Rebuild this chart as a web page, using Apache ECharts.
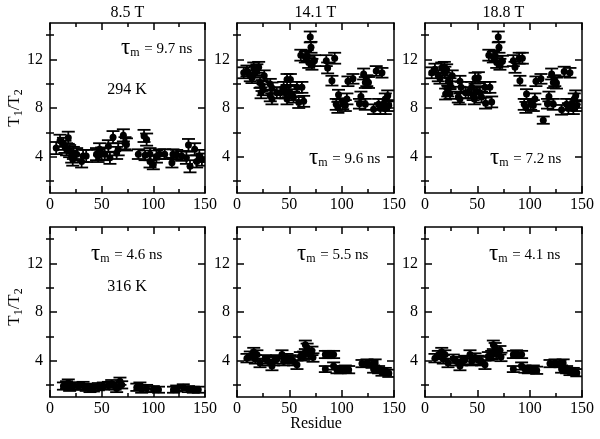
<!DOCTYPE html>
<html>
<head>
<meta charset="utf-8">
<script src="https://cdn.jsdelivr.net/npm/echarts@6/dist/echarts.min.js"></script>
<style>
  html, body { margin: 0; padding: 0; background: #fff; }
  #chart { width: 600px; height: 439px; }
</style>
</head>
<body>
<div id="chart"></div>
<script>
// [residue, T1/T2, error]
const data85_294 = [
  [6, 4.7, 0.5], [9.7, 5.3, 0.5], [13, 5.05, 0.5], [14.5, 4.8, 0.5], [17.7, 5.55, 0.5],
  [16, 4.6, 0.5], [19, 4.45, 0.5], [21, 4.0, 0.5], [22.6, 4.3, 0.5], [22, 3.75, 0.5],
  [25.8, 4.2, 0.5], [30.6, 3.6, 0.5], [32, 4.05, 0.5], [35, 4.05, 0.5], [45, 4.2, 0.5],
  [48, 4.6, 0.5], [46.5, 4.05, 0.5], [50, 4.25, 0.5], [53, 4.2, 0.5], [56.5, 4.85, 0.5],
  [58, 3.9, 0.5], [61, 5.6, 0.5], [64.5, 4.3, 0.5], [66, 4.6, 0.5], [71, 5.75, 0.5],
  [72.6, 5.1, 0.5], [74, 5.0, 0.5], [85.5, 4.2, 0.4], [91, 5.7, 0.5], [93.5, 5.4, 0.5],
  [92, 4.1, 0.4], [96.8, 4.2, 0.5], [96.8, 3.6, 0.5], [100, 3.35, 0.4], [103, 4.0, 0.5],
  [106, 4.2, 0.4], [111, 4.2, 0.4], [118, 3.5, 0.4], [119, 4.2, 0.4], [122.6, 4.15, 0.4],
  [127.4, 4.05, 0.4], [132, 3.9, 0.5], [134, 4.95, 0.5], [135.5, 3.2, 0.5], [140, 4.6, 0.5],
  [142, 3.6, 0.5], [144.5, 4.05, 0.5], [147, 3.75, 0.5]
];
const data141_294 = [
  [6.4, 10.9, 0.45], [9.5, 11.05, 0.45], [12.7, 10.65, 0.45], [14.3, 10.5, 0.45], [16, 11.3, 0.45],
  [19, 11.15, 0.45], [20.7, 11.35, 0.45], [17.5, 10.95, 0.45], [26, 10.65, 0.45], [22, 10.1, 0.45],
  [23.9, 9.85, 0.45], [23, 9.25, 0.45], [25, 9.5, 0.45], [31.8, 9.95, 0.45], [33.4, 9.65, 0.45],
  [31.8, 9.0, 0.45], [33.4, 8.75, 0.45], [38, 9.25, 0.45], [41.4, 9.25, 0.45], [44.6, 9.7, 0.45],
  [46, 9.25, 0.45], [47.8, 10.35, 0.45], [51, 10.35, 0.45], [49.3, 9.35, 0.45], [47.8, 8.75, 0.45],
  [52.5, 9.1, 0.45], [54, 8.9, 0.45], [57.3, 9.7, 0.45], [59, 8.45, 0.45], [62, 9.7, 0.45],
  [63.7, 8.55, 0.45], [61, 12.35, 0.45], [65.3, 12.2, 0.45], [67, 12.3, 0.45], [70, 13.85, 0.45],
  [70.7, 13.0, 0.45], [68.5, 11.75, 0.45], [71.6, 11.6, 0.45], [74, 11.9, 0.45], [85.3, 11.9, 0.45],
  [86.6, 11.3, 0.45], [93.3, 12.1, 0.45], [90.7, 10.25, 0.4], [97, 9.1, 0.4], [94.8, 8.3, 0.45],
  [96.4, 8.05, 0.45], [101, 8.35, 0.45], [103.5, 8.2, 0.45], [105, 8.75, 0.45], [106, 10.2, 0.4],
  [110.8, 10.4, 0.4], [117, 8.35, 0.4], [118.4, 8.95, 0.4], [121, 10.8, 0.45], [122.6, 10.1, 0.45],
  [124, 10.25, 0.45], [125.6, 10.1, 0.45], [122.6, 8.3, 0.45], [130.5, 7.9, 0.4], [133, 11.05, 0.4],
  [138.5, 10.9, 0.4], [135.3, 8.3, 0.45], [137, 7.95, 0.45], [140, 8.3, 0.45], [141.7, 8.75, 0.45],
  [144, 9.0, 0.45], [145, 8.2, 0.45], [141.7, 7.95, 0.45]
];
const data188_294 = [
  [6.4, 10.9, 0.45], [9.5, 11.2, 0.45], [12.7, 10.65, 0.45], [14.3, 10.45, 0.45], [16, 11.3, 0.45],
  [18.5, 11.35, 0.45], [20.7, 11.15, 0.45], [19, 10.95, 0.45], [26, 10.65, 0.45], [22.3, 10.2, 0.45],
  [23.9, 10.0, 0.45], [21.7, 9.4, 0.45], [23.9, 9.2, 0.45], [19.7, 9.15, 0.45], [33.4, 10.2, 0.45],
  [34.4, 9.7, 0.45], [31.8, 8.9, 0.45], [33.4, 8.75, 0.45], [38.8, 9.25, 0.45], [41.4, 9.25, 0.45],
  [44.6, 9.7, 0.45], [46, 9.1, 0.45], [47.8, 10.45, 0.45], [51, 10.5, 0.45], [49.3, 9.35, 0.45],
  [47.1, 8.75, 0.45], [52.5, 9.25, 0.45], [54, 8.9, 0.45], [57.3, 9.7, 0.45], [57.9, 8.4, 0.45],
  [62, 9.7, 0.45], [63.7, 8.5, 0.45], [61, 12.35, 0.45], [65.3, 12.2, 0.45], [67, 12.3, 0.45],
  [70, 13.85, 0.45], [70.7, 13.0, 0.45], [68.5, 11.75, 0.45], [71.6, 11.6, 0.45], [74, 11.85, 0.45],
  [84.4, 11.9, 0.45], [86, 11.35, 0.45], [90, 12.1, 0.45], [93, 12.1, 0.45], [90.7, 10.25, 0.4],
  [97, 9.15, 0.4], [94.8, 8.3, 0.45], [96.4, 8.05, 0.45], [101, 8.3, 0.45], [103.5, 8.2, 0.45],
  [105, 8.75, 0.45], [106, 10.2, 0.4], [110.8, 10.4, 0.4], [113, 7.0, 0.3], [117, 8.35, 0.4],
  [118.4, 8.95, 0.4], [121, 10.8, 0.45], [122.6, 10.1, 0.45], [124, 10.25, 0.45], [125.6, 10.05, 0.45],
  [122.6, 8.3, 0.45], [130.5, 7.85, 0.4], [133, 11.0, 0.4], [138.5, 10.9, 0.4], [135.3, 8.3, 0.45],
  [137, 7.95, 0.45], [140, 8.3, 0.45], [142.6, 8.75, 0.45], [144, 9.0, 0.45], [145, 8.2, 0.45],
  [141.7, 7.95, 0.45]
];
const data85_316 = [
  [13, 1.9, 0.3], [16, 2.0, 0.3], [19, 1.8, 0.3], [17.7, 2.15, 0.3], [22.6, 1.9, 0.3],
  [27.4, 1.9, 0.3], [32, 1.95, 0.3], [35, 1.8, 0.3], [38.7, 1.7, 0.3], [42, 1.75, 0.3],
  [46.8, 1.85, 0.3], [51.6, 1.9, 0.3], [56.5, 1.95, 0.3], [59.7, 2.1, 0.3], [63, 1.9, 0.3],
  [64.5, 1.7, 0.3], [67.7, 2.3, 0.3], [69.4, 2.0, 0.3], [84, 1.8, 0.3], [87, 1.9, 0.3],
  [88.7, 1.65, 0.3], [93.5, 1.7, 0.3], [100, 1.65, 0.25], [105, 1.6, 0.25], [119.5, 1.6, 0.25],
  [122.6, 1.7, 0.25], [129, 1.8, 0.25], [134, 1.65, 0.25], [138.7, 1.6, 0.25], [143.5, 1.6, 0.25]
];
const data141_316 = [
  [9.5, 4.2, 0.35], [12.7, 4.4, 0.35], [16, 4.7, 0.35], [19, 4.5, 0.35], [17.5, 4.1, 0.35],
  [22, 3.8, 0.35], [27, 4.1, 0.35], [30, 3.95, 0.35], [33.4, 3.55, 0.35], [35, 3.95, 0.35],
  [38, 4.1, 0.35], [43, 4.5, 0.35], [44.6, 3.95, 0.35], [47.8, 4.2, 0.35], [51, 4.1, 0.35],
  [54, 3.95, 0.35], [57.3, 3.65, 0.35], [60.5, 4.35, 0.35], [63.7, 4.4, 0.35], [65.3, 5.3, 0.35],
  [67, 5.05, 0.35], [68.5, 4.5, 0.35], [71.6, 4.8, 0.35], [72.6, 4.25, 0.35], [84.4, 4.5, 0.3],
  [87.5, 4.5, 0.3], [92.3, 4.5, 0.3], [84.4, 3.3, 0.25], [92.3, 3.55, 0.3], [95.5, 3.25, 0.3],
  [98.7, 3.25, 0.3], [103.5, 3.3, 0.3], [106.7, 3.25, 0.3], [119.4, 3.75, 0.3], [124.2, 3.8, 0.3],
  [129, 3.7, 0.3], [132, 3.8, 0.3], [130.5, 3.3, 0.3], [135.3, 3.25, 0.3], [138.5, 3.05, 0.3],
  [141.7, 3.1, 0.3], [145, 2.95, 0.3]
];
const data188_316 = [
  [9.5, 4.2, 0.35], [12.7, 4.45, 0.35], [16, 4.7, 0.35], [19, 4.5, 0.35], [17.5, 4.1, 0.35],
  [22, 3.8, 0.35], [27, 4.15, 0.35], [30, 3.95, 0.35], [33.4, 3.55, 0.35], [35, 3.95, 0.35],
  [38, 4.05, 0.35], [43, 4.5, 0.35], [44.6, 3.95, 0.35], [47.8, 4.25, 0.35], [51, 4.05, 0.35],
  [54, 3.95, 0.35], [57.3, 3.65, 0.35], [60.5, 4.35, 0.35], [63.7, 4.45, 0.35], [65.3, 5.3, 0.35],
  [67, 5.1, 0.35], [68.5, 4.5, 0.35], [71.6, 4.85, 0.35], [72.6, 4.3, 0.35], [84.4, 4.5, 0.3],
  [87.5, 4.55, 0.3], [92.3, 4.5, 0.3], [84.4, 3.3, 0.25], [92.3, 3.55, 0.3], [95.5, 3.3, 0.3],
  [98.7, 3.25, 0.3], [103.5, 3.3, 0.3], [106.7, 3.2, 0.3], [119.4, 3.75, 0.3], [124.2, 3.8, 0.3],
  [129, 3.75, 0.3], [132, 3.8, 0.3], [130.5, 3.3, 0.3], [135.3, 3.25, 0.3], [138.5, 3.1, 0.3],
  [141.7, 3.1, 0.3], [145, 3.0, 0.3]
];

const fieldTitles = ["8.5 T", "14.1 T", "18.8 T"];
const tauLabels = ["9.7", "9.6", "7.2", "4.6", "5.5", "4.1"];
const tempLabels = ["294 K", "316 K"];
const xTicks = [0, 50, 100, 150];
const yMajor = [4, 8, 12];
const yMinor = [2, 6, 10, 14];

const panels = [data85_294, data141_294, data188_294, data85_316, data141_316, data188_316];

const FONT = "Liberation Serif";
const lefts = [50, 237, 425];
const widths = [155, 157, 157];
const tops = [23, 227];

const chart = echarts.init(document.getElementById("chart"));

// error bar: vertical line + wide caps + filled dot
function renderErr(params, api) {
  const x = api.value(0), y = api.value(1), e = api.value(2);
  const c = api.coord([x, y]);
  const hi = api.coord([x, y + e]);
  const lo = api.coord([x, y - e]);
  const w = 6.5;
  const st = { stroke: "#000", lineWidth: 1.8 };
  return {
    type: "group",
    children: [
      { type: "line", shape: { x1: c[0], y1: hi[1], x2: c[0], y2: lo[1] }, style: st },
      { type: "line", shape: { x1: c[0] - w, y1: hi[1], x2: c[0] + w, y2: hi[1] }, style: st },
      { type: "line", shape: { x1: c[0] - w, y1: lo[1], x2: c[0] + w, y2: lo[1] }, style: st },
      { type: "circle", shape: { cx: c[0], cy: c[1], r: 3.5 }, style: { fill: "#000" } }
    ]
  };
}

const grid = [], xAxis = [], yAxis = [], series = [], graphic = [];
const line = { show: true, onZero: false, lineStyle: { color: "#000", width: 1.5 } };
const tickStyle = { color: "#000", width: 1.5 };
const labelStyle = { fontFamily: FONT, fontSize: 16, color: "#000" };

panels.forEach((d, i) => {
  const row = Math.floor(i / 3), col = i % 3;
  grid.push({ left: lefts[col], top: tops[row], width: widths[col], height: 170, containLabel: false });
  ["bottom", "top"].forEach((pos) => {
    xAxis.push({
      gridIndex: i, type: "value", min: 0, max: 150, interval: 50, position: pos,
      axisLine: line,
      axisTick: { show: true, inside: true, length: 7, lineStyle: tickStyle },
      minorTick: { show: true, splitNumber: 2, length: 4, lineStyle: tickStyle },
      axisLabel: Object.assign({ show: pos === "bottom", margin: 4, showMinLabel: true, showMaxLabel: true,
        customValues: xTicks }, labelStyle),
      splitLine: { show: false }, minorSplitLine: { show: false }
    });
  });
  ["left", "right"].forEach((pos) => {
    yAxis.push({
      gridIndex: i, type: "value", min: 1, max: 15, position: pos,
      axisLine: line,
      axisTick: { show: true, inside: true, length: 7, lineStyle: tickStyle, customValues: yMajor },
      axisLabel: Object.assign({ show: pos === "left", margin: 7, customValues: yMajor }, labelStyle),
      splitLine: { show: false }
    });
  });
  ["left", "right"].forEach((pos) => {
    yAxis.push({
      gridIndex: i, type: "value", min: 1, max: 15, position: pos,
      axisLine: { show: false },
      axisTick: { show: true, inside: true, length: 4, lineStyle: tickStyle, customValues: yMinor },
      axisLabel: { show: false },
      splitLine: { show: false }
    });
  });
  series.push({
    type: "custom", xAxisIndex: 2 * i, yAxisIndex: 4 * i,
    renderItem: renderErr, data: d, clip: true, silent: true
  });

  // tau_m annotation
  const tauPos = [[121, 47], [309, 157], [490, 157], [91, 253], [297, 253], [489, 253]][i];
  graphic.push({
    type: "text", left: tauPos[0], top: tauPos[1] - 11,
    style: {
      text: "{t|τ}{s|m}{n| = " + tauLabels[i] + " ns}",
      rich: {
        t: { fontFamily: FONT, fontSize: 23, fill: "#000" },
        s: { fontFamily: FONT, fontSize: 12, fill: "#000", padding: [10, 1, 0, 0] },
        n: { fontFamily: FONT, fontSize: 15, fill: "#000", padding: [3, 0, 0, 0] }
      }
    }
  });
});

fieldTitles.forEach((t, c) => {
  graphic.push({
    type: "text", x: lefts[c] + widths[c] / 2, y: 13,
    style: { text: t, fontFamily: FONT, fontSize: 16, fill: "#000", align: "center", verticalAlign: "middle" }
  });
});
tempLabels.forEach((t, r) => {
  graphic.push({
    type: "text", x: 127, y: [90, 287][r],
    style: { text: t, fontFamily: FONT, fontSize: 16, fill: "#000", align: "center", verticalAlign: "middle" }
  });
  graphic.push({
    type: "text", x: 15, y: [108, 307][r], rotation: Math.PI / 2,
    style: {
      text: "{a|T}{b|1}{a|/T}{b|2}", align: "center", verticalAlign: "middle",
      rich: {
        a: { fontFamily: FONT, fontSize: 17, fill: "#000" },
        b: { fontFamily: FONT, fontSize: 12, fill: "#000", padding: [7, 0, 0, 0] }
      }
    }
  });
});
graphic.push({
  type: "text", x: 316, y: 424,
  style: { text: "Residue", fontFamily: FONT, fontSize: 16, fill: "#000", align: "center", verticalAlign: "middle" }
});

chart.setOption({
  animation: false,
  backgroundColor: "#fff",
  grid, xAxis, yAxis, series, graphic
});
</script>
</body>
</html>
